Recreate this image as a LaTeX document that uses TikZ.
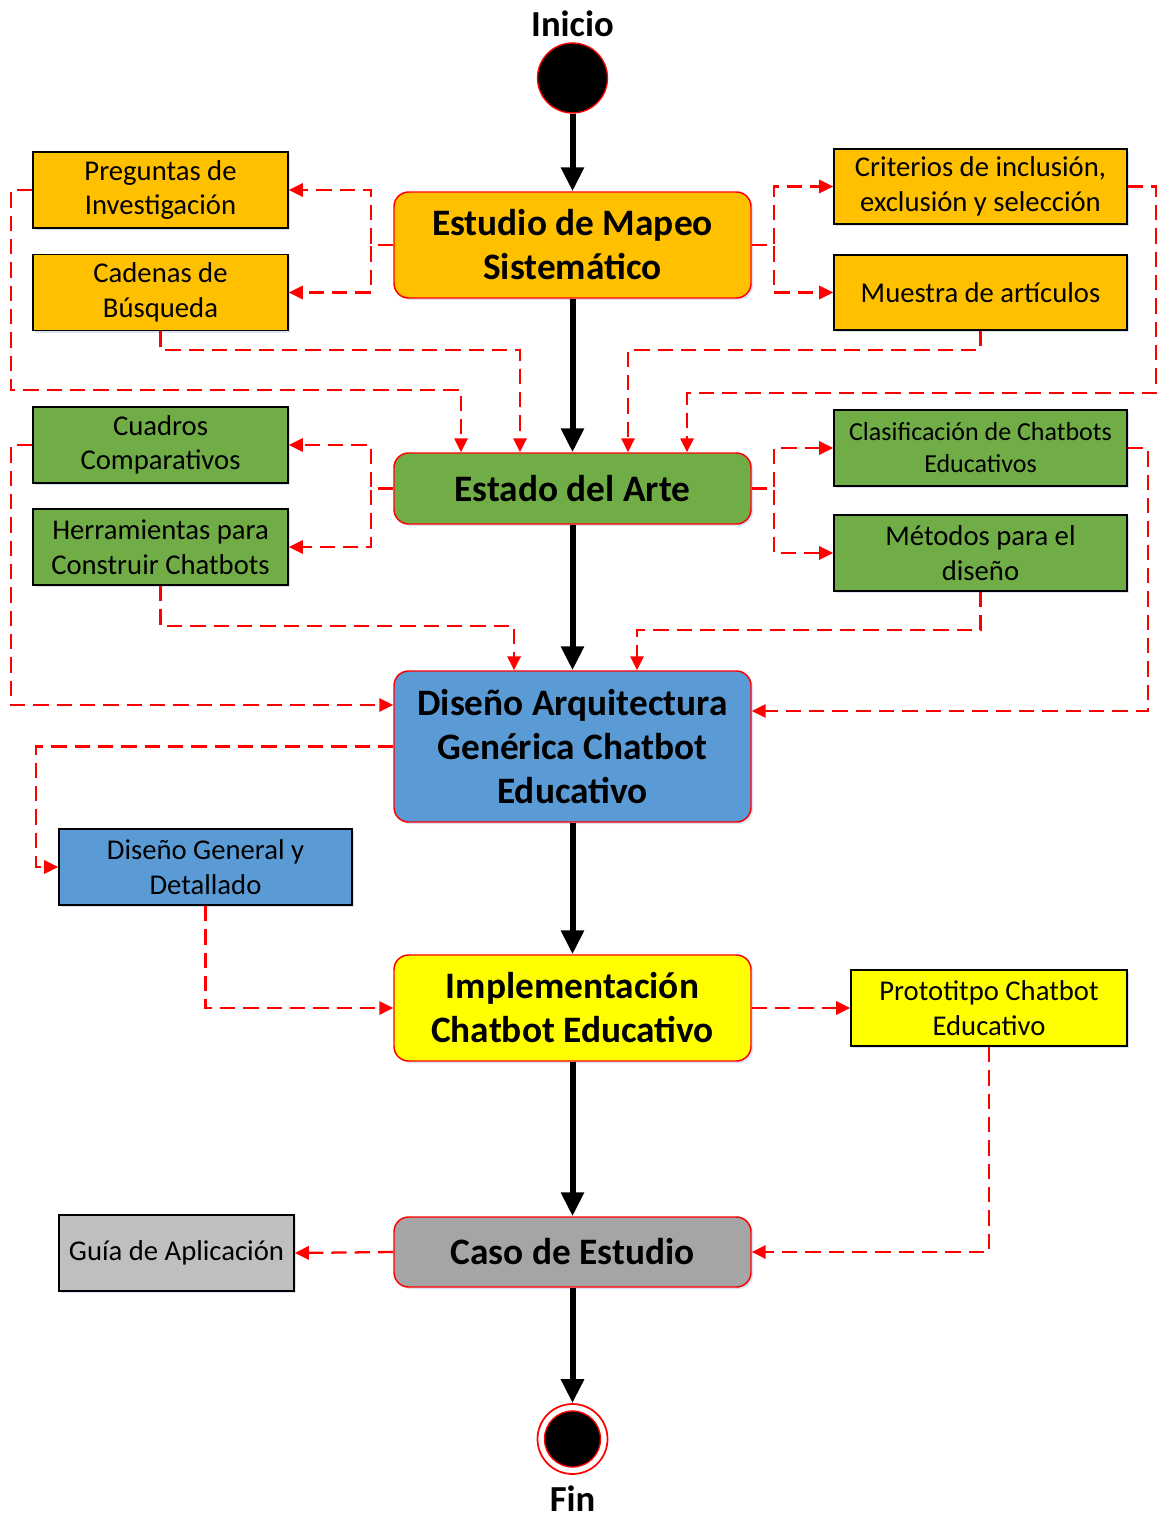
\documentclass[tikz,border=0pt]{standalone}
\usepackage{fontspec}
\setmainfont{Carlito}
\usetikzlibrary{arrows.meta,calc,shadows}
\definecolor{cOrange}{HTML}{FFC000}
\definecolor{cGreen}{HTML}{70AD47}
\definecolor{cBlue}{HTML}{5B9BD5}
\definecolor{cYellow}{HTML}{FFFF00}
\definecolor{cGray}{HTML}{A5A5A5}
\definecolor{cLight}{HTML}{BFBFBF}
\definecolor{cRed}{HTML}{FF0000}
\definecolor{cShadow}{HTML}{B4C7E7}
\tikzset{
  stage/.style={draw=cRed, line width=1.1pt, rounded corners=11pt, inner sep=0pt,
    minimum width=267.75pt, align=center,
    font=\fontsize{28}{33}\selectfont\bfseries,
    drop shadow={shadow xshift=1.5pt, shadow yshift=-1.5pt, fill=cShadow, opacity=0.5}},
  item/.style={draw=black, line width=1.3pt, inner sep=0pt, minimum height=57pt,
    align=center, font=\fontsize{21.5}{26}\selectfont,
    drop shadow={shadow xshift=1.5pt, shadow yshift=-1.5pt, fill=cShadow, opacity=0.5}},
  flow/.style={line width=4.5pt, -{Triangle[length=18pt,width=16.5pt]}},
  dep/.style={draw=cRed, line width=1.7pt, dash pattern=on 11.5pt off 6pt,
    -{Triangle[length=10.5pt,width=10pt]}},
  termlabel/.style={font=\fontsize{27.5}{30}\selectfont\bfseries}
}
\begin{document}
\begin{tikzpicture}[x=0.75pt,y=-0.75pt]
\useasboundingbox (0,0) rectangle (1158,1520);

% start and end states
\node[termlabel] (tIni) at (572.5,24) {Inicio};
\node[circle, fill=black, draw=cRed, line width=1pt, minimum size=52.5pt, inner sep=0pt] (ini) at (572.5,78) {};
\node[circle, fill=white, draw=cRed, line width=1.3pt, minimum size=52.5pt, inner sep=0pt] (fin) at (572.5,1439) {};
\node[circle, fill=black, draw=cRed, line width=1pt, minimum size=42pt, inner sep=0pt] (finIn) at (572.5,1439) {};
\node[termlabel] (tFin) at (572.5,1499) {Fin};

% main stages
\node[stage, fill=cOrange, minimum height=79.5pt] (est) at (572.5,245) {Estudio de Mapeo\\Sistemático};
\node[stage, fill=cGreen, minimum height=53.25pt] (arte) at (572.5,488.5) {Estado del Arte};
\node[stage, fill=cBlue, minimum height=113.25pt] (dis) at (572.5,746.5) {Diseño Arquitectura\\Genérica Chatbot\\Educativo};
\node[stage, fill=cYellow, minimum height=79.5pt] (impl) at (572.5,1008) {Implementación\\Chatbot Educativo};
\node[stage, fill=cGray, minimum height=52.5pt] (caso) at (572.5,1252) {Caso de Estudio};

% products of each stage
\node[item, fill=cOrange, minimum width=191.25pt] (preg) at (160.5,190) {Preguntas de\\Investigación};
\node[item, fill=cOrange, minimum width=191.25pt] (cad) at (160.5,292.5) {Cadenas de\\Búsqueda};
\node[item, fill=cOrange, minimum width=219.75pt, minimum height=56.25pt] (cri) at (980.5,186.5) {Criterios de inclusión,\\exclusión y selección};
\node[item, fill=cOrange, minimum width=219.75pt, minimum height=56.25pt] (mue) at (980.5,292.5) {Muestra de artículos};

\node[item, fill=cGreen, minimum width=191.25pt] (cua) at (160.5,445) {Cuadros\\Comparativos};
\node[item, fill=cGreen, minimum width=191.25pt] (her) at (160.5,547) {Herramientas para\\Construir Chatbots};
\node[item, fill=cGreen, minimum width=219.75pt, font=\fontsize{19.5}{24}\selectfont] (cla) at (980.5,448) {Clasificación de Chatbots\\Educativos};
\node[item, fill=cGreen, minimum width=219.75pt] (met) at (980.5,553) {Métodos para el\\diseño};

\node[item, fill=cBlue, minimum width=219.75pt] (gen) at (205.5,867) {Diseño General y\\Detallado};
\node[item, fill=cYellow, minimum width=207pt] (proto) at (989,1008) {Prototitpo Chatbot\\Educativo};
\node[item, fill=cLight, minimum width=176.25pt] (guia) at (176.5,1253) {Guía de Aplicación};

% main flow
\draw[flow] (ini) -- (est);
\draw[flow] (est) -- (arte);
\draw[flow] (arte) -- (dis);
\draw[flow] (dis) -- (impl);
\draw[flow] (impl) -- (caso);
\draw[flow] (caso) -- (fin);

% lanes for the dashed dependencies
\coordinate (l1) at (461,0);
\coordinate (l2) at (520,0);
\coordinate (l3) at (628,0);
\coordinate (l4) at (687,0);
\coordinate (l5) at (514,0);
\coordinate (l6) at (637,0);
\coordinate (r1) at (0,705);
\coordinate (r2) at (0,711);

% stage 1 outputs
\draw[dep] (est.west) -- ++(-22,0) |- (preg.east);
\draw[dep] (est.west) -- ++(-22,0) |- (cad.east);
\draw[dep] (est.east) -- ++(22,0) |- (cri.west);
\draw[dep] (est.east) -- ++(22,0) |- (mue.west);
\draw[dep] (preg.west) -| (11,390) -| (arte.north -| l1);
\draw[dep] (cad.south) |- (520,350) -| (arte.north -| l2);
\draw[dep] (mue.south) |- (628,350) -| (arte.north -| l3);
\draw[dep] (cri.east) -| (1156,393) -| (arte.north -| l4);

% stage 2 outputs
\draw[dep] (arte.west) -- ++(-22,0) |- (cua.east);
\draw[dep] (arte.west) -- ++(-22,0) |- (her.east);
\draw[dep] (arte.east) -- ++(22,0) |- (cla.west);
\draw[dep] (arte.east) -- ++(22,0) |- (met.west);
\draw[dep] (cua.west) -| (11,705) -- (dis.west |- r1);
\draw[dep] (her.south) |- (514,626) -- (dis.north -| l5);
\draw[dep] (met.south) |- (637,630) -- (dis.north -| l6);
\draw[dep] (cla.east) -| (1148,711) -- (dis.east |- r2);

% stage 3 to 5 outputs
\draw[dep] (dis.west) -| ($(gen.west)+(-22,0)$) -- (gen.west);
\draw[dep] (gen.south) |- (impl.west);
\draw[dep] (impl.east) -- (proto.west);
\draw[dep] (proto.south) |- (caso.east);
\draw[dep] (caso.west) -- (guia.east);
\end{tikzpicture}
\end{document}
